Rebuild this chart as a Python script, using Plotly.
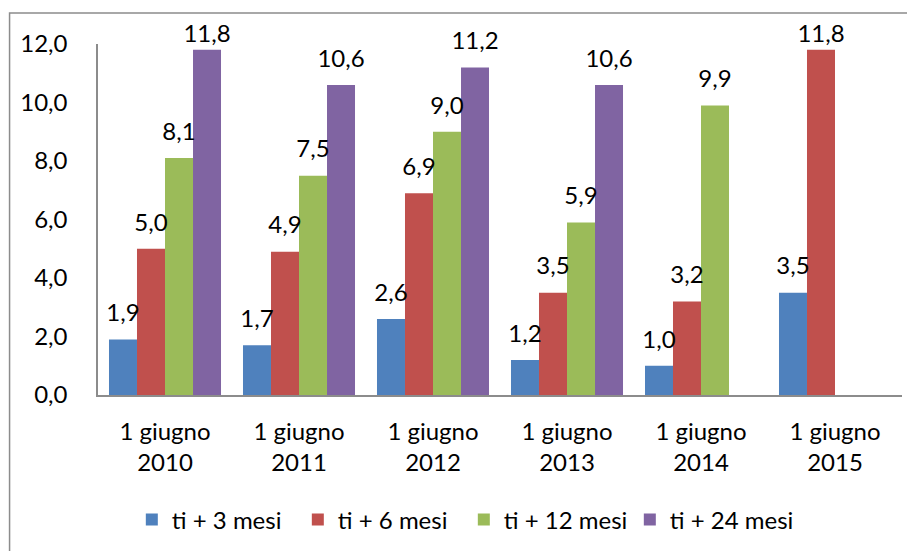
import plotly.graph_objects as go

categories = ["1 giugno<br>2010", "1 giugno<br>2011", "1 giugno<br>2012",
              "1 giugno<br>2013", "1 giugno<br>2014", "1 giugno<br>2015"]
series_names = ["ti + 3 mesi", "ti + 6 mesi", "ti + 12 mesi", "ti + 24 mesi"]
s3 = [1.9, 1.7, 2.6, 1.2, 1.0, 3.5]
s6 = [5.0, 4.9, 6.9, 3.5, 3.2, 11.8]
s12 = [8.1, 7.5, 9.0, 5.9, 9.9, None]
s24 = [11.8, 10.6, 11.2, 10.6, None, None]
colors = ["#4F81BD", "#C0504D", "#9BBB59", "#8064A2"]
y_ticks = [0, 2, 4, 6, 8, 10, 12]

FONT = "Lato"
FS = 24
BARGAP = 0.164
Y_MAX = 12
fig = go.Figure()
for name, vals, col in zip(series_names, [s3, s6, s12, s24], colors):
    fig.add_trace(go.Bar(
        x=categories, y=vals, name=name,
        marker=dict(color=col, line=dict(width=0)),
    ))
for name, vals in zip(series_names, [s3, s6, s12, s24]):
    # labels near the top of the axis are pushed down to stay inside the chart (as in Excel)
    sizes = [1 if (v is not None and v > Y_MAX - 0.5) else 18 for v in vals]
    fig.add_trace(go.Scatter(
        x=categories, y=vals, name=name, showlegend=False, hoverinfo="skip",
        mode="markers+text", cliponaxis=False,
        marker=dict(size=sizes, color="rgba(0,0,0,0)", opacity=0,
                    line=dict(width=0, color="rgba(0,0,0,0)")),
        text=[None if v is None else f"{v:.1f}".replace(".", ",") for v in vals],
        textposition="top center",
        textfont=dict(family=FONT, size=FS, color="black"),
    ))

fig.update_layout(
    width=915, height=551,
    barmode="group", bargap=BARGAP, bargroupgap=0,
    scattermode="group", scattergap=BARGAP,
    paper_bgcolor="white", plot_bgcolor="white",
    margin=dict(l=90, r=21, t=36, b=164, autoexpand=False),
    separators=",.",
    font=dict(family=FONT, size=FS, color="black"),
    showlegend=True,
    legend=dict(orientation="h", x=0.455, xanchor="center", y=-0.356, yanchor="middle",
                font=dict(family=FONT, size=FS, color="black"),
                traceorder="normal", itemwidth=30, entrywidth=121),
    xaxis=dict(showline=True, linecolor="#8c8c8c", linewidth=1.5, ticks="",
               showgrid=False, ticklabelstandoff=14, automargin=False,
               tickfont=dict(family=FONT, size=FS, color="black")),
    yaxis=dict(range=[0, Y_MAX], tickvals=y_ticks, tickformat=".1f",
               showline=True, linecolor="#8c8c8c", linewidth=1.5, ticks="",
               showgrid=False, zeroline=False, ticklabelstandoff=24, automargin=False,
               tickfont=dict(family=FONT, size=FS, color="black")),
    shapes=[dict(type="rect", xref="paper", yref="paper",
                 x0=-0.11, x1=1.05, y0=-0.5, y1=1.088,
                 line=dict(color="#8c8c8c", width=1.5), fillcolor="rgba(0,0,0,0)",
                 layer="below")],
)

fig.write_html("out.html")
